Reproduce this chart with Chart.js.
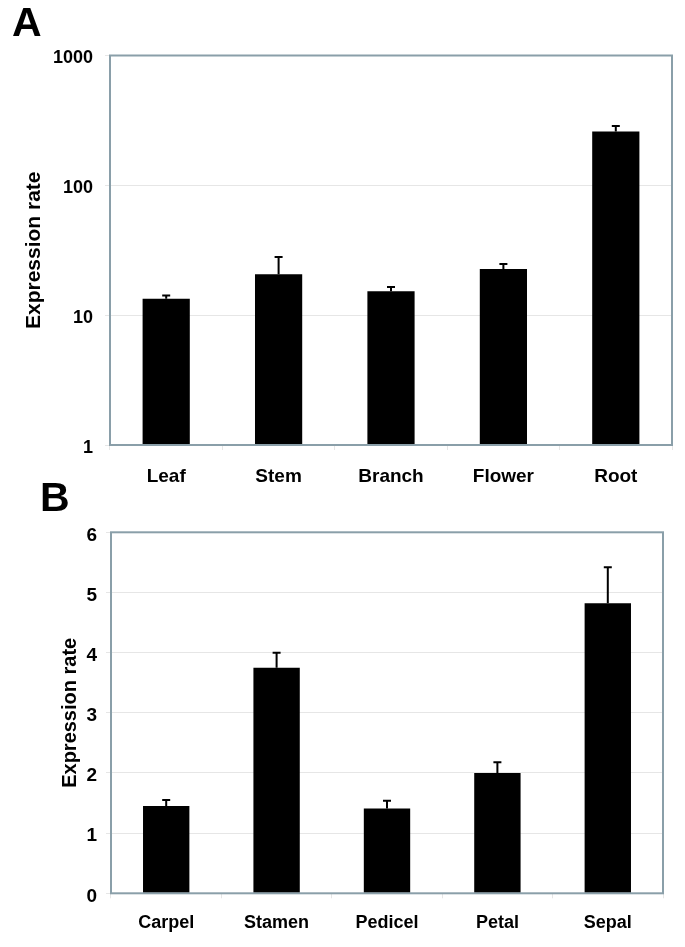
<!DOCTYPE html>
<html>
<head>
<meta charset="utf-8">
<script src="https://cdn.jsdelivr.net/npm/chart.js@4.4.1/dist/chart.umd.min.js"></script>
<style>
  body { margin: 0; background: #fff; width: 685px; height: 947px; position: relative; overflow: hidden; }
  .panel { position: absolute; left: 0; width: 685px; }
  .letter { position: absolute; font: bold 41px "Liberation Sans", Arial, sans-serif; line-height: 41px; color: #000; }
</style>
</head>
<body>
<div class="panel" style="top:0;height:500px"><canvas id="chartA"></canvas></div>
<div class="panel" style="top:480px;height:467px"><canvas id="chartB"></canvas></div>
<div class="letter" style="left:12px;top:2px">A</div>
<div class="letter" style="left:40px;top:477px">B</div>
<script>
// panel A - organs (log scale)
const tissuesA = ['Leaf', 'Stem', 'Branch', 'Flower', 'Root'];
const rateA = [13.4, 20.7, 15.3, 22.7, 260];
const errA = [0.8, 7.4, 1.2, 2.1, 26];
const ticksA = [1, 10, 100, 1000];

// panel B - flower parts
const tissuesB = ['Carpel', 'Stamen', 'Pedicel', 'Petal', 'Sepal'];
const rateB = [1.45, 3.75, 1.41, 2.0, 4.82];
const errB = [0.1, 0.25, 0.13, 0.18, 0.6];

const FONT = '"Liberation Sans", Arial, sans-serif';
const frameColor = '#8a9fa9';
const gridColor = '#e6e6e6';

// upward error bars with a small cap
const errorBars = {
  id: 'errorBars',
  afterDatasetsDraw(chart, args, opts) {
    const { ctx } = chart;
    const yScale = chart.scales.y;
    const meta = chart.getDatasetMeta(0);
    const vals = chart.data.datasets[0].data;
    ctx.save();
    ctx.strokeStyle = '#000';
    ctx.lineWidth = 2;
    meta.data.forEach((bar, i) => {
      const top = yScale.getPixelForValue(vals[i] + opts.errors[i]);
      ctx.beginPath();
      ctx.moveTo(bar.x, bar.y);
      ctx.lineTo(bar.x, top);
      ctx.moveTo(bar.x - 4, top);
      ctx.lineTo(bar.x + 4, top);
      ctx.stroke();
    });
    ctx.restore();
  }
};

// box around the plot area
const frame = {
  id: 'frame',
  afterDatasetsDraw(chart) {
    const { ctx, chartArea: { left, top, width, height } } = chart;
    ctx.save();
    ctx.strokeStyle = frameColor;
    ctx.lineWidth = 2;
    ctx.strokeRect(left, top, width, height);
    ctx.restore();
  }
};

function makeChart(id, labels, values, errors, cfg) {
  const yScale = {
    type: cfg.log ? 'logarithmic' : 'linear',
    min: cfg.min,
    max: cfg.max,
    afterFit(scale) { scale.width = cfg.axisWidth; },
    border: { display: false },
    grid: { color: gridColor, lineWidth: 1, tickLength: 5 },
    ticks: {
      color: '#000',
      padding: cfg.yPad,
      labelOffset: 3,
      font: { family: FONT, size: cfg.yFont, weight: 'bold' }
    },
    title: {
      display: true,
      text: 'Expression rate',
      color: '#000',
      font: { family: FONT, size: cfg.titleFont, weight: 'bold' },
      padding: { top: cfg.titlePad, bottom: 0 }
    }
  };
  if (cfg.log) {
    yScale.afterBuildTicks = (scale) => {
      scale.ticks = ticksA.map(v => ({ value: v, major: true }));
    };
    yScale.ticks.callback = (v) => String(v);
  } else {
    yScale.ticks.stepSize = 1;
  }

  return new Chart(document.getElementById(id), {
    type: 'bar',
    data: {
      labels: labels,
      datasets: [{
        data: values,
        backgroundColor: '#000',
        borderWidth: 0,
        barPercentage: 0.42,
        categoryPercentage: 1
      }]
    },
    options: {
      responsive: true,
      maintainAspectRatio: false,
      animation: false,
      layout: { padding: { top: cfg.padTop, right: cfg.padRight, left: 0, bottom: 0 } },
      scales: {
        x: {
          afterFit(scale) { scale.height = cfg.xHeight; },
          border: { display: false },
          grid: { color: gridColor, drawOnChartArea: false, tickLength: 5, offset: true },
          ticks: {
            color: '#000',
            padding: cfg.xPad,
            font: { family: FONT, size: cfg.xFont, weight: 'bold' }
          }
        },
        y: yScale
      },
      plugins: {
        legend: { display: false },
        tooltip: { enabled: false },
        errorBars: { errors: errors }
      }
    },
    plugins: [errorBars, frame]
  });
}

makeChart('chartA', tissuesA, rateA, errA, {
  log: true, min: 1, max: 1000,
  axisWidth: 110, padTop: 55.5, padRight: 13, xHeight: 55,
  yFont: 18, yPad: 12, xFont: 19, xPad: 15, titleFont: 21, titlePad: 22
});

makeChart('chartB', tissuesB, rateB, errB, {
  log: false, min: 0, max: 6,
  axisWidth: 111, padTop: 52.3, padRight: 22, xHeight: 53.7,
  yFont: 19, yPad: 9, xFont: 18, xPad: 14, titleFont: 20, titlePad: 58
});
</script>
</body>
</html>
